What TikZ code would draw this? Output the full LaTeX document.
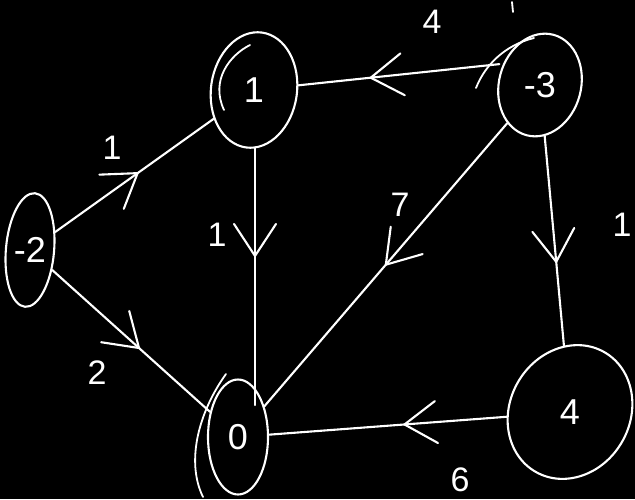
\documentclass[tikz,border=0pt]{standalone}
\usepackage{fontspec}
\setmainfont{Liberation Sans}
\usetikzlibrary{shapes.geometric,decorations.markings}
\begin{document}
\begin{tikzpicture}[x=1pt,y=-1pt,
  line width=2.1pt, line cap=round, line join=round,
  vtx/.style={ellipse, draw=white, line width=2.1pt, inner sep=0pt, text=white,
    font=\fontsize{36}{40}\selectfont},
  wlab/.style={text=white, inner sep=0pt, font=\fontsize{34}{38}\selectfont},
  conn/.style={draw=white, postaction={decorate}, decoration={markings,
    mark=at position #1 with {\draw[white, line width=2.1pt] (-32pt,21pt) -- (0pt,0pt) -- (-32pt,-21pt);}}},
  stroke/.style={draw=white, line width=1.8pt},
]
\fill[black] (0,0) rectangle (635,499);
\useasboundingbox (0,0) rectangle (635,499);

% vertices
\node[vtx, minimum width=86pt, minimum height=116pt, rotate=-8] (n1) at (254,90) {\rotatebox{8}{1}};
\node[vtx, minimum width=82pt, minimum height=104pt, rotate=-15] (n3) at (540,85) {\rotatebox{15}{-3}};
\node[vtx, minimum width=44pt, minimum height=114pt, rotate=-5] (n2) at (30,250) {\rotatebox{5}{-2}};
\node[vtx, minimum width=60pt, minimum height=115pt] (n0) at (238,437) {0};
\node[vtx, minimum width=120pt, minimum height=138pt, rotate=-30] (n4) at (570,412) {\rotatebox{30}{4}};

% edges
\draw[conn=0.52] (n2) -- (n1);
\draw[conn=0.42] ([xshift=1pt,yshift=-58pt]n1.center) -- ([xshift=17pt,yshift=32pt]n0.center);
\draw[conn=0.64] ([yshift=10pt]n3.west) -- (n1);
\draw[conn=0.5] (n3) -- (n0);
\draw[conn=0.6] (n3) -- (n4);
\draw[conn=0.43] (n4) -- (n0);
\draw[conn=0.55] (n2) -- (n0);

% weights
\node[wlab] (w21) at (112,148) {1};
\node[wlab] (w10) at (217,235) {1};
\node[wlab] (w31) at (432,22) {4};
\node[wlab] (w30) at (400,205) {7};
\node[wlab] (w34) at (622,225) {1};
\node[wlab] (w40) at (460,480) {6};
\node[wlab] (w20) at (97,373) {2};

% hand-drawn extra strokes
\draw[stroke] (512,2) -- (513,12);
\draw[stroke] (226,374) .. controls (200,410) and (185,460) .. (203,497);
\draw[stroke] (534,38) .. controls (505,45) and (485,65) .. (476,88);
\draw[stroke] (250,45) .. controls (230,55) and (210,80) .. (224,110);
\end{tikzpicture}
\end{document}
